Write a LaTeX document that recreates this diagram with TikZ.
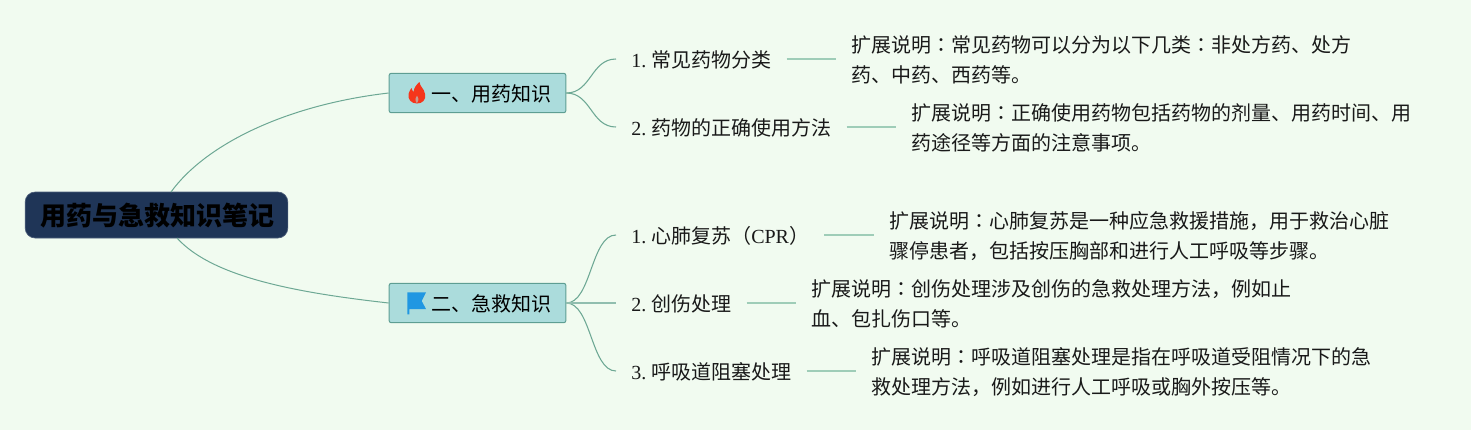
\documentclass[tikz,border=0pt]{standalone}
\usepackage{fontspec}
\setmainfont{Liberation Serif}
\newfontfamily\cjk{Noto Sans CJK SC}
\newfontfamily\cjp{Noto Sans CJK JP}
\newcommand{\cln}{{\cjp ：}}
\frenchspacing
\definecolor{bgc}{HTML}{F1FBF0}
\definecolor{rootc}{HTML}{1F3557}
\definecolor{branchc}{HTML}{ABDCDC}
\definecolor{branchb}{HTML}{5E9E93}
\definecolor{curvec}{HTML}{6DA894}
\definecolor{linec}{HTML}{9FCDB8}
\definecolor{flamec}{HTML}{F5361B}
\definecolor{flagc}{HTML}{2097E2}
\tikzset{
  rootbox/.style={draw=rootc!80!white,line width=0.5pt,fill=rootc,rounded corners=7.5pt,minimum width=197pt,minimum height=34.5pt,inner sep=0pt,text height=18.5pt,text depth=3pt,font=\fontsize{19.5pt}{22pt}\selectfont\cjk\bfseries,text=black},
  branchbox/.style={draw=branchb,line width=0.75pt,fill=branchc,rounded corners=1.5pt,minimum width=132.5pt,minimum height=29.5pt,inner sep=0pt,text height=15.9pt,text depth=3pt,font=\fontsize{15pt}{18pt}\selectfont\cjk,text=black},
  leafbox/.style={anchor=west,inner xsep=11.25pt,inner ysep=0pt,text height=15.9pt,text depth=3pt,font=\fontsize{15pt}{18pt}\selectfont,text=black!90},
  detailbox/.style={anchor=west,align=left,inner xsep=11.4pt,inner ysep=0pt,font=\fontsize{15pt}{22.4pt}\selectfont\cjk,text=black!90},
  bigcurve/.style={draw=curvec,line width=0.75pt},
  branchcurve/.style={draw=curvec,line width=0.8pt},
  branchstraight/.style={draw=curvec!75!white,line width=1.1pt},
  leafline/.style={draw=linec,line width=1.1pt}
}
\begin{document}
\begin{tikzpicture}[x=0.75pt,y=-0.75pt]
\useasboundingbox[fill=bgc] (0,0) rectangle (1471,430);
% connector ends
\coordinate (rootTop) at (171,192);
\coordinate (rootBot) at (177,238);
% nodes
\node[rootbox] (root) at (156.5,215) {\hspace*{2pt}用药与急救知识笔记};
\node[branchbox] (b1) at (477.5,93) {\hspace*{21.5pt}一、用药知识};
\node[branchbox] (b2) at (477.5,303) {\hspace*{21.5pt}二、急救知识};
\node[leafbox] (l1) at (616,59) {1. {\cjk 常见药物分类}};
\node[leafbox] (l2) at (616,127) {2. {\cjk 药物的正确使用方法}};
\node[leafbox] (l3) at (616,235) {1. {\cjk 心肺复苏（}CPR{\cjk ）}};
\node[leafbox] (l4) at (616,303) {2. {\cjk 创伤处理}};
\node[leafbox] (l5) at (616,371) {3. {\cjk 呼吸道阻塞处理}};
\node[detailbox] (d1) at (836,60) {扩展说明\cln 常见药物可以分为以下几类\cln 非处方药、处方\\药、中药、西药等。};
\node[detailbox] (d2) at (896,128) {扩展说明\cln 正确使用药物包括药物的剂量、用药时间、用\\药途径等方面的注意事项。};
\node[detailbox] (d3) at (874,236) {扩展说明\cln 心肺复苏是一种应急救援措施，用于救治心脏\\骤停患者，包括按压胸部和进行人工呼吸等步骤。};
\node[detailbox] (d4) at (796,304) {扩展说明\cln 创伤处理涉及创伤的急救处理方法，例如止\\血、包扎伤口等。};
\node[detailbox] (d5) at (856,372) {扩展说明\cln 呼吸道阻塞处理是指在呼吸道受阻情况下的急\\救处理方法，例如进行人工呼吸或胸外按压等。};
% connectors
\draw[bigcurve] (rootTop) .. controls (205,145) and (285,105) .. (b1.west);
\draw[bigcurve] (rootBot) .. controls (213,278) and (300,293) .. (b2.west);
\foreach \br/\lf in {b1/l1,b1/l2,b2/l3,b2/l5}{
  \draw[branchcurve] (\br.east) .. controls ([xshift=18.75pt]\br.east) and ([xshift=-18.75pt]\lf.west) .. (\lf.west);
}
\draw[branchstraight] (b2.east) -- (l4.west);
\foreach \lf/\dt in {l1/d1,l2/d2,l3/d3,l4/d4,l5/d5}{
  \draw[leafline] (\lf.east) -- (\lf.east -| \dt.west);
}
% flame icon
\fill[fill=flamec] (419.5,82) .. controls (420,87) and (424,88) .. (425,94) .. controls (426.5,100) and (422,103.5) .. (417,103.5) .. controls (411,103.5) and (407.5,99) .. (408.5,94) .. controls (409,91) and (410.5,90) .. (411.5,88) .. controls (412,90) and (412.5,91) .. (413.5,92) .. controls (414,88) and (416,85) .. (419.5,82) -- cycle;
\fill[fill=branchc!60!flamec] (416.8,103.2) .. controls (414.5,100) and (415.5,97.5) .. (417,95.5) .. controls (418.5,97.5) and (419.5,100) .. (416.8,103.2) -- cycle;
% flag icon
\fill[fill=flagc] (407.3,292.3) -- (426,292.3) -- (421.7,301) -- (426,309) -- (409.3,309) -- (409.3,314.3) -- (407.3,314.3) -- cycle;
\end{tikzpicture}
\end{document}
